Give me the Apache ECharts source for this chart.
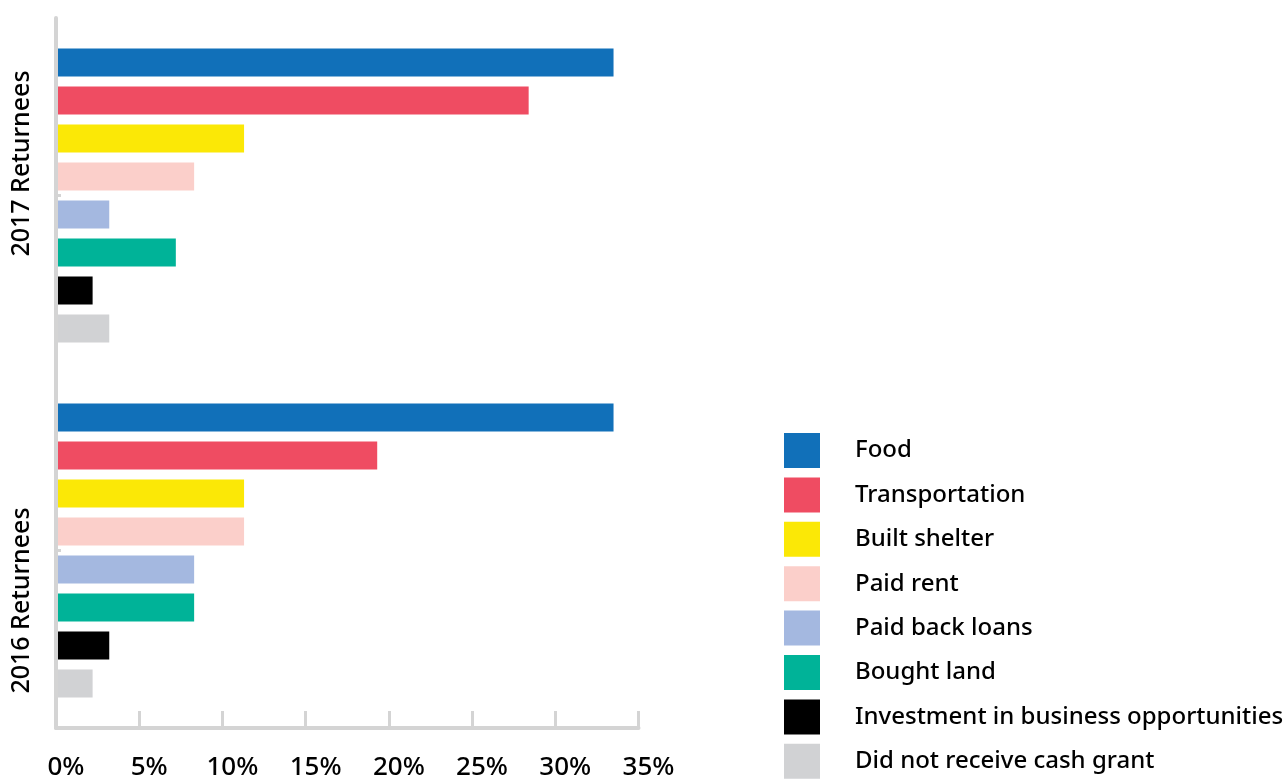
<!DOCTYPE html>
<html>
<head>
<meta charset="utf-8">
<script src="https://cdn.jsdelivr.net/npm/echarts@6/dist/echarts.min.js"></script>
<style>
html, body { margin: 0; padding: 0; background: #fff; }
#chart { width: 1283px; height: 781px; }
</style>
</head>
<body>
<div id="chart"></div>
<script>
var groups = ['2017 Returnees', '2016 Returnees'];
var uses = ['Food', 'Transportation', 'Built shelter', 'Paid rent', 'Paid back loans',
  'Bought land', 'Investment in business opportunities', 'Did not receive cash grant'];
var colors = ['#1170b9', '#ef4c62', '#fbe806', '#fbcfca', '#a4b8e0', '#00b398', '#000000', '#d1d2d4'];
// percent for [2017, 2016]
var food = [33.5, 33.5];
var transport = [28.4, 19.3];
var shelter = [11.3, 11.3];
var rent = [8.3, 11.3];
var loans = [3.2, 8.3];
var land = [7.2, 8.3];
var business = [2.2, 3.2];
var noGrant = [3.2, 2.2];
var values = [food, transport, shelter, rent, loans, land, business, noGrant];

var font = '"Noto Sans", sans-serif';
var axisGrey = '#d4d4d4';

var chart = echarts.init(document.getElementById('chart'));

var series = uses.map(function(name, i) {
  return {
    name: name,
    type: 'bar',
    barWidth: 28,
    barGap: '35.7%',
    itemStyle: { color: colors[i] },
    data: values[i]
  };
});

var option = {
  animation: false,
  textStyle: { fontFamily: font },
  grid: { left: 56, top: 18, width: 582.5, height: 719 },
  legend: {
    orient: 'vertical',
    left: 784,
    top: 433,
    padding: 0,
    icon: 'rect',
    itemWidth: 36,
    itemHeight: 35,
    itemGap: 9.4,
    selectedMode: false,
    textStyle: { fontSize: 24, fontWeight: 500, color: '#000', fontFamily: font, padding: [5, 0, 0, 30] },
    data: uses
  },
  xAxis: {
    type: 'value',
    min: 0,
    max: 35,
    interval: 5,
    axisLine: { show: true, lineStyle: { color: axisGrey, width: 4 } },
    axisTick: { show: true, inside: true, length: 17, lineStyle: { color: axisGrey, width: 3 } },
    splitLine: { show: false },
    axisLabel: {
      formatter: '{value}%',
      fontSize: 26,
      fontWeight: 500,
      color: '#000',
      margin: 27,
      padding: [0, 0, 0, 20]
    }
  },
  yAxis: {
    type: 'category',
    inverse: true,
    data: groups,
    z: 3,
    axisLine: { show: true, lineStyle: { color: axisGrey, width: 4 } },
    axisTick: { show: true, inside: true, alignWithLabel: true, length: 5, lineStyle: { color: axisGrey, width: 3 } },
    axisLabel: {
      rotate: 90,
      margin: 22,
      color: '#000',
      fontSize: 25,
      formatter: function(v, i) {
        return i === 0 ? '{a|' + v + '}' : '{b|' + v + '}';
      },
      rich: {
        a: { fontSize: 25, fontWeight: 500, color: '#000', fontFamily: font, padding: [0, 0, 0, 64] },
        b: { fontSize: 25, fontWeight: 500, color: '#000', fontFamily: font, padding: [0, 100, 0, 0] }
      }
    }
  },
  series: series
};

chart.setOption(option);
</script>
</body>
</html>
